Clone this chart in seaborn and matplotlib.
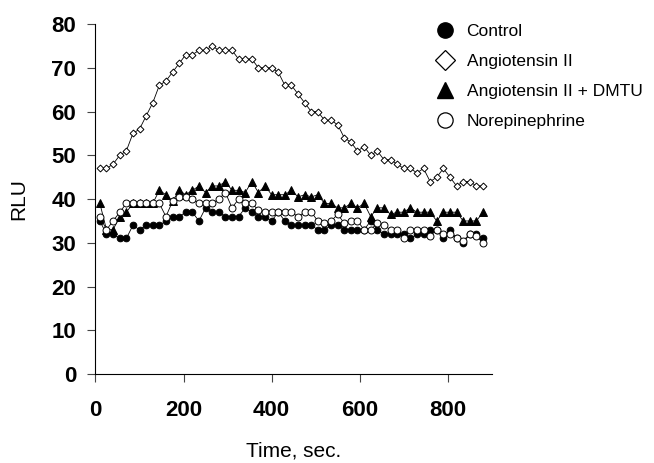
import numpy as np
import pandas as pd
import seaborn as sns
import matplotlib.pyplot as plt
from matplotlib.lines import Line2D

# time points (sec), one reading every 15 s
time_sec = [10 + 15 * i for i in range(59)]

control = [35, 32, 32, 31, 31, 34, 33, 34, 34, 34, 35, 36, 36, 37, 37, 35, 38, 37, 37, 36,
           36, 36, 38, 37, 36, 36, 35, 37, 35, 34, 34, 34, 34, 33, 33, 34, 34, 33, 33, 33,
           33, 35, 33, 32, 32, 32, 32, 31, 32, 32, 33, 33, 31, 33, 31, 30, 32, 32, 31]

angiotensin = [47, 47, 48, 50, 51, 55, 56, 59, 62, 66, 67, 69, 71, 73, 73, 74, 74, 75, 74, 74,
               74, 72, 72, 72, 70, 70, 70, 69, 66, 66, 64, 62, 60, 60, 58, 58, 57, 54, 53, 51,
               52, 50, 51, 49, 49, 48, 47, 47, 46, 47, 44, 45, 47, 45, 43, 44, 44, 43, 43]

angiotensin_dmtu = [39, 33, 33, 36, 37, 39, 39, 39, 39, 42, 41, 39.5, 42, 41, 42, 43, 41.5, 43, 43, 44,
                    42, 42, 41.5, 44, 41.5, 43, 41, 41, 41, 42, 40.5, 41, 40.5, 41, 39, 39, 38, 38, 39, 38,
                    39, 36, 38, 38, 36.5, 37, 37, 38, 37, 37, 37, 35, 37, 37, 37, 35, 35, 35, 37]

norepinephrine = [36, 33, 35, 37, 39, 39, 39, 39, 39, 39, 36, 39.5, 40.5, 40.5, 40, 39, 39, 39, 40, 41.5,
                  38, 40, 39, 39, 37.5, 37, 37, 37, 37, 37, 36, 37, 37, 35, 34.5, 35, 36.5, 34.5, 35, 35,
                  33, 33, 34.5, 34, 33, 33, 31, 33, 33, 33, 31.5, 33, 32, 32, 31, 30.5, 32, 31.5, 30]

labels = ['Control', 'Angiotensin II', 'Angiotensin II + DMTU', 'Norepinephrine']

df = pd.DataFrame({'time': time_sec, 'Control': control, 'Angiotensin II': angiotensin,
                   'Angiotensin II + DMTU': angiotensin_dmtu, 'Norepinephrine': norepinephrine})

sns.set_style('ticks')
plt.rcParams['font.family'] = ['Liberation Sans', 'DejaVu Sans']
plt.rcParams.update({'text.color': 'black', 'axes.labelcolor': 'black',
                     'xtick.labelcolor': 'black', 'ytick.labelcolor': 'black'})

fig = plt.figure(figsize=(6.54, 4.63), dpi=100)
ax = fig.add_axes([0.146, 0.192, 0.606, 0.756])

# marker style for each series
styles = {
    'Control': dict(marker='o', markersize=4.8, markerfacecolor='black'),
    'Angiotensin II': dict(marker='D', markersize=3.5, markerfacecolor='white'),
    'Angiotensin II + DMTU': dict(marker='^', markersize=5.4, markerfacecolor='black'),
    'Norepinephrine': dict(marker='o', markersize=5.0, markerfacecolor='white'),
}
for name in labels:
    sns.lineplot(data=df, x='time', y=name, ax=ax, color='black', linewidth=0.6,
                 markeredgecolor='black', markeredgewidth=0.7, **styles[name])

ax.set_xlim(0, 900)
ax.set_ylim(0, 80)
ax.set_xticks([0, 200, 400, 600, 800])
ax.set_yticks(range(0, 81, 10))
sns.despine(ax=ax)
for side in ['left', 'bottom']:
    ax.spines[side].set_linewidth(0.8)
    ax.spines[side].set_color('black')
ax.tick_params(axis='both', length=6, width=0.8, color='#444444', labelsize=16, labelcolor='black')
ax.tick_params(axis='x', pad=13)
ax.tick_params(axis='y', pad=8)
for lab in ax.get_xticklabels() + ax.get_yticklabels():
    lab.set_fontweight('bold')

ax.set_xlabel('Time, sec.', fontsize=15)
ax.set_ylabel('RLU', fontsize=15)
ax.xaxis.set_label_coords(0.5, -0.193)
ax.yaxis.set_label_coords(-0.17, 0.5)

# legend, markers only, larger than in the plot
handles = [
    Line2D([], [], linestyle='none', marker='o', markersize=11, markerfacecolor='black', markeredgecolor='black'),
    Line2D([], [], linestyle='none', marker='D', markersize=10, markerfacecolor='white', markeredgecolor='black', markeredgewidth=0.9),
    Line2D([], [], linestyle='none', marker='^', markersize=12, markerfacecolor='black', markeredgecolor='black'),
    Line2D([], [], linestyle='none', marker='o', markersize=11, markerfacecolor='white', markeredgecolor='black', markeredgewidth=0.9),
]
fig.legend(handles, labels, loc='upper left', bbox_to_anchor=(0.667, 0.948), frameon=False,
           fontsize=12.5, handlelength=1.0, handletextpad=0.75, labelspacing=0.85, borderpad=0,
           borderaxespad=0)

fig.savefig('out.png', dpi=100)
